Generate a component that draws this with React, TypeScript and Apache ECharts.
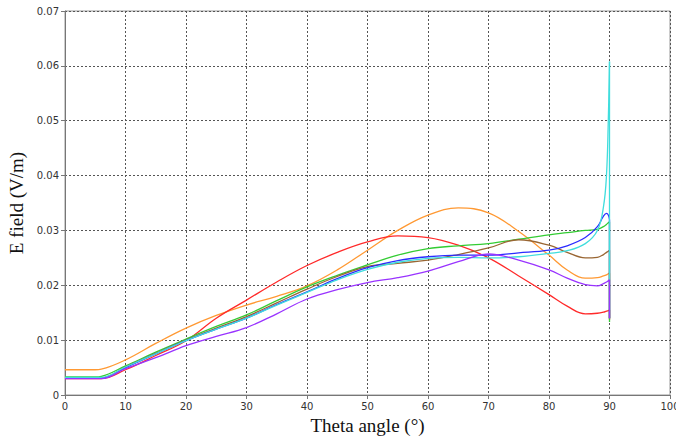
import React, { useEffect, useRef } from "react";
import * as echarts from "echarts";

const theta = [0, 5, 6, 10, 15, 20, 25, 30, 35, 40, 45, 50, 55, 60, 65, 70, 75, 80, 83, 86, 88, 89, 89.5, 89.8, 90];

const orange = [0.0046, 0.0046, 0.0047, 0.0064, 0.0094, 0.0122, 0.0145, 0.0164, 0.018, 0.0199, 0.0228, 0.0264, 0.03, 0.0328, 0.0341, 0.0332, 0.0298, 0.0255, 0.0228, 0.0213, 0.0214, 0.0217, 0.0219, 0.0221, 0.0222];
const red = [0.003, 0.003, 0.003, 0.0046, 0.0072, 0.0099, 0.014, 0.0173, 0.0206, 0.0236, 0.026, 0.0279, 0.029, 0.0287, 0.0273, 0.025, 0.0217, 0.0183, 0.0162, 0.0148, 0.0149, 0.0151, 0.0153, 0.0154, 0.0155];
const green = [0.0033, 0.0033, 0.0034, 0.0053, 0.0078, 0.0102, 0.0125, 0.0146, 0.0172, 0.0197, 0.0218, 0.0237, 0.0255, 0.0267, 0.0272, 0.0276, 0.0284, 0.0292, 0.0296, 0.03, 0.0302, 0.0307, 0.0311, 0.0314, 0.0316];
const brown = [0.0031, 0.0031, 0.0031, 0.0051, 0.0076, 0.01, 0.0122, 0.0143, 0.0168, 0.0193, 0.0216, 0.0234, 0.024, 0.0246, 0.0256, 0.0268, 0.0283, 0.0273, 0.026, 0.025, 0.0251, 0.0256, 0.026, 0.0262, 0.0264];
const blue = [0.0031, 0.0031, 0.0031, 0.005, 0.0075, 0.0099, 0.012, 0.014, 0.0165, 0.0188, 0.0212, 0.0232, 0.0245, 0.0252, 0.0255, 0.0255, 0.0259, 0.0264, 0.0272, 0.0287, 0.0307, 0.0326, 0.0331, 0.0328, 0.032];
const cyan = [0.0032, 0.0032, 0.0032, 0.0051, 0.0075, 0.0099, 0.012, 0.014, 0.0164, 0.0187, 0.021, 0.0229, 0.0242, 0.0249, 0.0251, 0.025, 0.0252, 0.0258, 0.0263, 0.0276, 0.03, 0.0343, 0.04, 0.05, 0.0608];
const purple = [0.003, 0.003, 0.003, 0.0048, 0.0068, 0.009, 0.0107, 0.0123, 0.0148, 0.0175, 0.0192, 0.0205, 0.0214, 0.0226, 0.0243, 0.0257, 0.0246, 0.0228, 0.0213, 0.0201, 0.0199, 0.0203, 0.0206, 0.0208, 0.021];

// value each curve drops to at 90°
const endValues = [0.014, 0.0137, 0.0133, 0.014, 0.014, 0.014, 0.014];

const seriesNames = ["orange", "red", "green", "brown", "blue", "cyan", "purple"];
const seriesValues = [orange, red, green, brown, blue, cyan, purple];
const seriesColors = ["#FF9933", "#FF2A2A", "#33CC33", "#996633", "#2B2BFF", "#40DDDD", "#9933FF"];

const xTicks = [0, 10, 20, 30, 40, 50, 60, 70, 80, 90, 100];
const yTicks = [0, 0.01, 0.02, 0.03, 0.04, 0.05, 0.06, 0.07];

export default function App() {
  const ref = useRef<HTMLDivElement>(null);
  useEffect(() => {
    if (!ref.current) return;
    const chart = echarts.init(ref.current, null, { renderer: "svg" });
    const series: any[] = [];
    seriesValues.forEach((vals, i) => {
      const data = theta.map((t, j) => [t, vals[j]]);
      series.push({
        name: seriesNames[i],
        type: "line",
        data,
        smooth: 0.4,
        showSymbol: false,
        symbol: "none",
        lineStyle: { color: seriesColors[i], width: 1.3 },
        itemStyle: { color: seriesColors[i] },
        z: 3 + i,
      });
      series.push({
        name: seriesNames[i] + "-drop",
        type: "line",
        data: [
          [90, vals[vals.length - 1]],
          [90, endValues[i]],
        ],
        showSymbol: false,
        symbol: "none",
        lineStyle: { color: seriesColors[i], width: 1.3 },
        z: 3 + i,
      });
    });
    chart.setOption({
      animation: false,
      backgroundColor: "#ffffff",
      grid: {
        left: 65,
        right: 6,
        top: 11,
        bottom: 42,
        outerBoundsMode: "none",
        containLabel: false,
        show: true,
        borderColor: "#999999",
        borderWidth: 1,
        backgroundColor: "transparent",
      },
      xAxis: {
        type: "value",
        min: xTicks[0],
        max: xTicks[xTicks.length - 1],
        interval: 10,
        name: "Theta angle (°)",
        nameLocation: "middle",
        nameGap: 20,
        nameTextStyle: { fontFamily: "Liberation Serif", fontSize: 19, color: "#111", verticalAlign: "top" },
        axisLine: { show: true, lineStyle: { color: "#777", width: 1 } },
        axisTick: { show: true, length: 4, inside: false, lineStyle: { color: "#777" } },
        axisLabel: { fontFamily: "DejaVu Sans", fontSize: 10, color: "#333", margin: 6 },
        splitLine: { show: true, lineStyle: { color: "#555", type: [2, 2], width: 1 } },
      },
      yAxis: {
        type: "value",
        min: yTicks[0],
        max: yTicks[yTicks.length - 1],
        interval: 0.01,
        name: "E field (V/m)",
        nameLocation: "middle",
        nameGap: 36,
        nameTextStyle: { fontFamily: "Liberation Serif", fontSize: 19, color: "#111" },
        axisLine: { show: true, lineStyle: { color: "#777", width: 1 } },
        axisTick: { show: true, length: 4, lineStyle: { color: "#777" } },
        axisLabel: {
          fontFamily: "DejaVu Sans",
          fontSize: 10,
          color: "#333",
          margin: 6,
          formatter: (v: number) => (v === 0 ? "0" : String(Math.round(v * 100) / 100)),
        },
        splitLine: { show: true, lineStyle: { color: "#555", type: [2, 2], width: 1 } },
      },
      series,
    });
    return () => chart.dispose();
  }, []);
  return (
    <div
      ref={ref}
      style={{ position: "absolute", left: 0, top: 0, width: 676, height: 437 }}
    />
  );
}
